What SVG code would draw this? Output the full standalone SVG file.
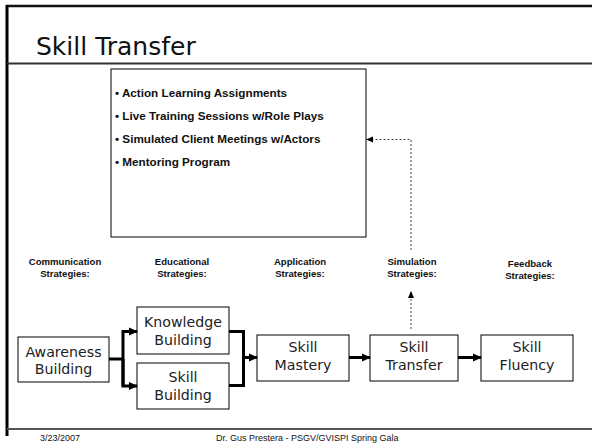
<svg xmlns="http://www.w3.org/2000/svg" width="592" height="446" viewBox="0 0 592 446">
<style>
.node rect{fill:#fff;stroke:#000;stroke-width:1}
.nt{font-family:"DejaVu Sans",Verdana,sans-serif;font-size:14.2px;fill:#222;text-anchor:middle}
.lbl{font-family:"Liberation Sans",Arial,sans-serif;font-size:9.6px;font-weight:bold;fill:#111;text-anchor:middle}
.bul{font-family:"Liberation Sans",Arial,sans-serif;font-size:11.7px;font-weight:bold;fill:#111}
.foot{font-family:"Liberation Sans",Arial,sans-serif;font-size:9px;fill:#111}
.thick{fill:none;stroke:#000;stroke-width:3}
.dot{fill:none;stroke:#444;stroke-width:1;stroke-dasharray:2 2}
</style>
<defs>
<marker id="ah" markerWidth="10" markerHeight="10" refX="8" refY="5" orient="auto" markerUnits="userSpaceOnUse">
<path d="M0,1 L9,5 L0,9 Z" fill="#000"/>
</marker>
<marker id="ahs" markerWidth="8" markerHeight="8" refX="6" refY="4" orient="auto" markerUnits="userSpaceOnUse">
<path d="M0,1 L7,4 L0,7 Z" fill="#000"/>
</marker>
</defs>
<rect width="592" height="446" fill="#fff"/>
<g id="frame">
<line x1="6" y1="6" x2="592" y2="6" stroke="#111" stroke-width="2.3"/>
<line x1="7" y1="5" x2="7" y2="436" stroke="#000" stroke-width="3"/>
<line x1="7" y1="63.5" x2="592" y2="63.5" stroke="#333" stroke-width="2"/>
<line x1="7" y1="429" x2="592" y2="429" stroke="#555" stroke-width="1.8"/>
</g>
<text x="36" y="55" font-family="'DejaVu Sans',Verdana,sans-serif" font-size="25" fill="#111">Skill Transfer</text>
<g id="activities">
<rect x="111" y="69" width="255" height="168" fill="#fff" stroke="#000" stroke-width="1"/>
<text class="bul" x="115" y="97">• Action Learning Assignments</text>
<text class="bul" x="115" y="120">• Live Training Sessions w/Role Plays</text>
<text class="bul" x="115" y="143">• Simulated Client Meetings w/Actors</text>
<text class="bul" x="115" y="166">• Mentoring Program</text>
</g>
<g id="labels">
<text class="lbl" x="65" y="265">Communication<tspan x="65" y="277">Strategies:</tspan></text>
<text class="lbl" x="182" y="265">Educational<tspan x="182" y="277">Strategies:</tspan></text>
<text class="lbl" x="300" y="265">Application<tspan x="300" y="277">Strategies:</tspan></text>
<text class="lbl" x="412" y="265">Simulation<tspan x="412" y="277">Strategies:</tspan></text>
<text class="lbl" x="530" y="267">Feedback<tspan x="530" y="279">Strategies:</tspan></text>
</g>
<g id="awareness" class="node">
<rect x="18" y="337" width="91" height="45"/>
<text class="nt" x="63.5" y="357">Awareness<tspan x="63.5" y="374">Building</tspan></text>
</g>
<g id="knowledge" class="node">
<rect x="137" y="307" width="92" height="47"/>
<text class="nt" x="183" y="327">Knowledge<tspan x="183" y="345">Building</tspan></text>
</g>
<g id="skillbuilding" class="node">
<rect x="137" y="363" width="92" height="46"/>
<text class="nt" x="183" y="382">Skill<tspan x="183" y="400">Building</tspan></text>
</g>
<g id="mastery" class="node">
<rect x="257" y="335" width="92" height="46"/>
<text class="nt" x="303" y="352">Skill<tspan x="303" y="370">Mastery</tspan></text>
</g>
<g id="transfer" class="node">
<rect x="370" y="335" width="88" height="46"/>
<text class="nt" x="414" y="352">Skill<tspan x="414" y="370">Transfer</tspan></text>
</g>
<g id="fluency" class="node">
<rect x="481" y="335" width="92" height="46"/>
<text class="nt" x="527" y="352">Skill<tspan x="527" y="370">Fluency</tspan></text>
</g>
<g id="connectors">
<polyline class="thick" points="109,359 123,359"/>
<polyline class="thick" points="123,386 123,331.5 137,331.5" marker-end="url(#ah)"/>
<polyline class="thick" points="123,359 123,386 137,386" marker-end="url(#ah)"/>
<polyline class="thick" points="229,331.5 243.5,331.5 243.5,385.5 229,385.5"/>
<line class="thick" x1="243.5" y1="357.5" x2="257" y2="357.5" marker-end="url(#ah)"/>
<line class="thick" x1="349" y1="357.5" x2="370" y2="357.5" marker-end="url(#ah)"/>
<line class="thick" x1="458" y1="357.5" x2="481" y2="357.5" marker-end="url(#ah)"/>
<line class="dot" x1="411" y1="329" x2="411" y2="292" marker-end="url(#ahs)"/>
<polyline class="dot" points="411,250 411,139.5 367,139.5" marker-end="url(#ahs)"/>
</g>
<text class="foot" x="40" y="441">3/23/2007</text>
<text class="foot" x="216" y="441">Dr. Gus Prestera - PSGV/GVISPI Spring Gala</text>
</svg>
